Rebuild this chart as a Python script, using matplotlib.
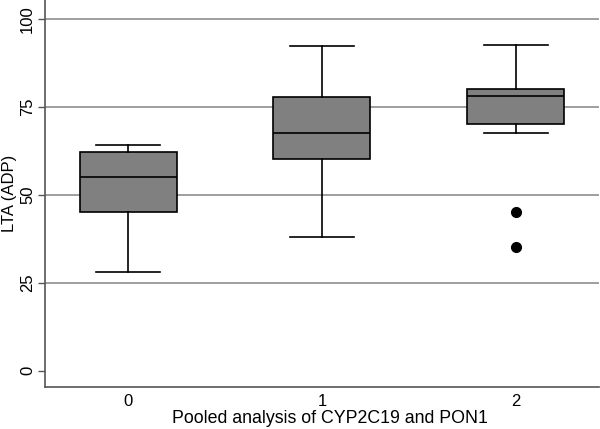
import matplotlib
matplotlib.use("Agg")
import matplotlib.pyplot as plt

plt.rcParams['font.family'] = ['Liberation Sans', 'DejaVu Sans']

# box summaries
groups = ["0", "1", "2"]
whislo = [28, 38, 67.5]
q1 = [45.2, 60.2, 70.1]
med = [55, 67.5, 78.1]
q3 = [62, 77.7, 79.9]
whishi = [64, 92.2, 92.5]
fliers = [[], [], [45.1, 35.1]]

stats = []
for i in range(len(groups)):
    stats.append(dict(label=groups[i], whislo=whislo[i], q1=q1[i], med=med[i],
                      q3=q3[i], whishi=whishi[i], fliers=fliers[i]))

fig = plt.figure(figsize=(6, 4.29), dpi=100)
ax = fig.add_axes([0.0745, 0.0986, 0.924, 0.9014])

for y in [25, 50, 75, 100]:
    ax.axhline(y, color="#8e8e8e", lw=1.2, zorder=0)

lw = 1.2
ax.bxp(stats, positions=range(len(groups)), widths=0.5, patch_artist=True,
       boxprops=dict(facecolor="#808080", edgecolor="black", linewidth=lw),
       medianprops=dict(color="black", linewidth=lw),
       whiskerprops=dict(color="black", linewidth=lw),
       capprops=dict(color="black", linewidth=lw),
       flierprops=dict(marker="o", markerfacecolor="black", markeredgecolor="black",
                       markersize=7, linestyle="none"),
       capwidths=0.33)

ax.set_xlim(-0.43, 2.43)
ax.set_ylim(-4.5, 105.3)
ax.set_yticks([0, 25, 50, 75, 100])
ax.set_yticklabels(["0", "25", "50", "75", "100"], rotation=90, va="center")
ax.tick_params(axis="y", labelsize=12, length=5, width=1, color="#555555", pad=2)
ax.tick_params(axis="x", labelsize=12, length=0, pad=5)

for s in ["top", "right"]:
    ax.spines[s].set_visible(False)
for s in ["left", "bottom"]:
    ax.spines[s].set_color("#555555")
    ax.spines[s].set_linewidth(1.2)

ax.set_ylabel("LTA (ADP)", fontsize=12)
ax.yaxis.set_label_coords(-0.05, 0.5)
ax.set_xlabel("Pooled analysis of CYP2C19 and PON1", fontsize=12.8)
ax.xaxis.set_label_coords(0.515, -0.06)

fig.savefig("out.png", dpi=100, facecolor="white")
